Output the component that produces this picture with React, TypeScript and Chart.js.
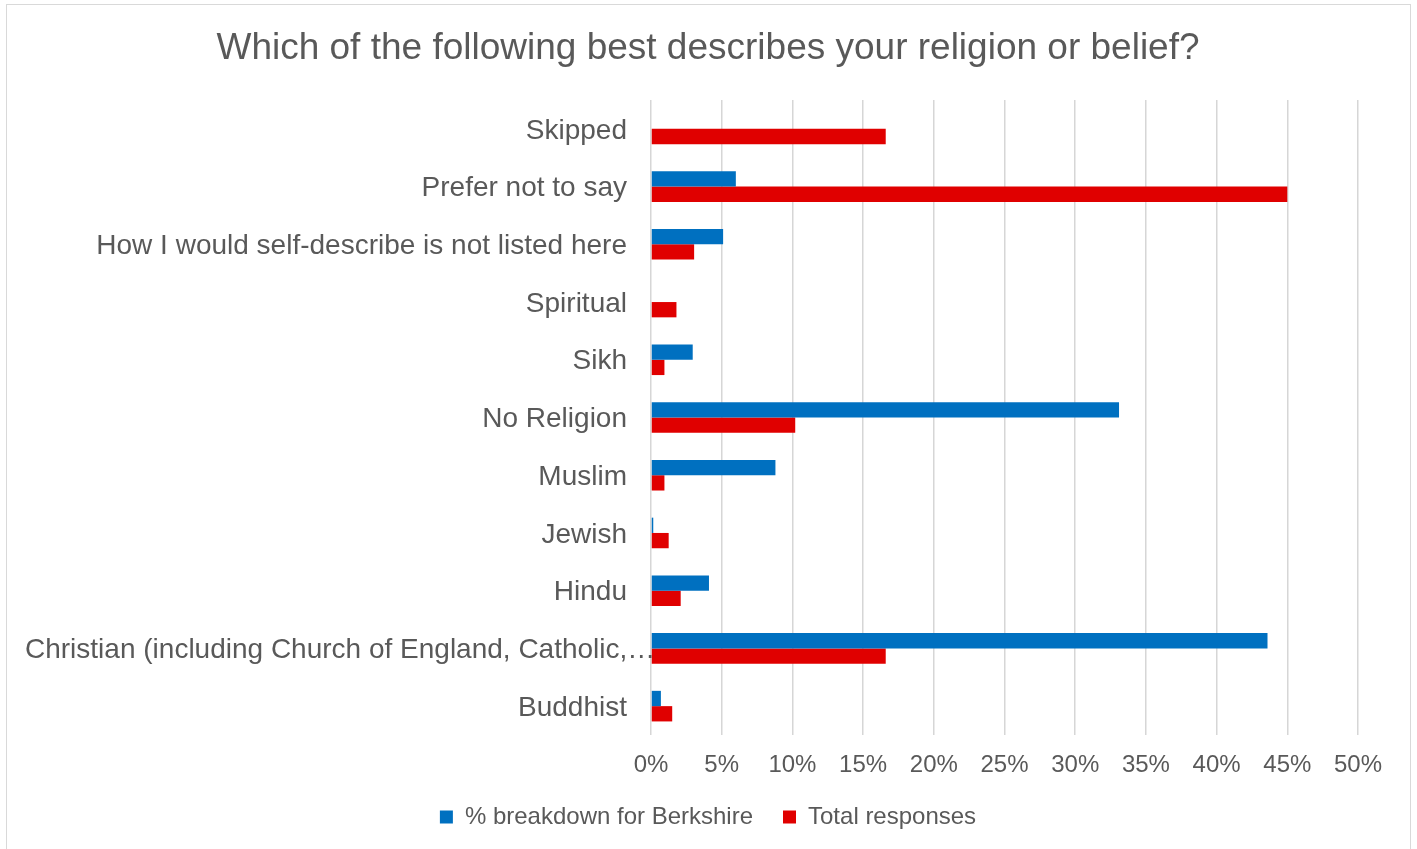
import React, { useEffect, useRef } from 'react';
import { Chart, registerables } from 'chart.js';

Chart.register(...registerables);

// Categories listed top to bottom as shown in the chart
const categories = [
  'Skipped',
  'Prefer not to say',
  'How I would self-describe is not listed here',
  'Spiritual',
  'Sikh',
  'No Religion',
  'Muslim',
  'Jewish',
  'Hindu',
  'Christian (including Church of England, Catholic,…',
  'Buddhist',
];

// % breakdown for Berkshire
const berkshire = [0, 6.0, 5.1, 0, 2.95, 33.1, 8.8, 0.16, 4.1, 43.6, 0.7];
// Total responses (%)
const totalResponses = [16.6, 45.0, 3.05, 1.8, 0.95, 10.2, 0.95, 1.25, 2.1, 16.6, 1.5];

const seriesNames = ['% breakdown for Berkshire', 'Total responses'];
const titleText = 'Which of the following best describes your religion or belief?';
const xMin = 0;
const xMax = 50;
const xStep = 5;

const FONT = '"Liberation Sans", Arial, Helvetica, sans-serif';
const TEXT = '#595959';
const BLUE = '#0070C0';
const RED = '#E00000';

const yLabelPlugin = {
  id: 'yLabels',
  afterDraw(chart: any) {
    const scale = chart.scales.y;
    const ctx = chart.ctx;
    ctx.save();
    ctx.font = `28px ${FONT}`;
    ctx.fillStyle = TEXT;
    ctx.textBaseline = 'middle';
    ctx.textAlign = 'left';
    const right = chart.chartArea.left - 24;
    const minLeft = 25;
    categories.forEach((label, i) => {
      const y = scale.getPixelForValue(i) + 2;
      const w = ctx.measureText(label).width;
      let x = right - w;
      if (x < minLeft) x = minLeft;
      ctx.fillText(label, x, y);
    });
    ctx.restore();
  },
};

export default function App() {
  const ref = useRef<HTMLCanvasElement>(null);

  useEffect(() => {
    const chart = new Chart(ref.current as HTMLCanvasElement, {
      type: 'bar',
      data: {
        labels: categories,
        datasets: [
          {
            label: seriesNames[0],
            data: berkshire,
            backgroundColor: BLUE,
            borderWidth: 0,
            categoryPercentage: 0.53,
            barPercentage: 1,
          },
          {
            label: seriesNames[1],
            data: totalResponses,
            backgroundColor: RED,
            borderWidth: 0,
            categoryPercentage: 0.53,
            barPercentage: 1,
          },
        ],
      },
      options: {
        indexAxis: 'y',
        responsive: false,
        animation: false,
        devicePixelRatio: 1,
        layout: { padding: { left: 58, right: 59, top: 0, bottom: 10 } },
        scales: {
          x: {
            min: xMin,
            max: xMax,
            ticks: {
              stepSize: xStep,
              callback: (v: any) => `${v}%`,
              color: TEXT,
              font: { size: 24, family: FONT },
              padding: 16,
            },
            grid: { color: '#d6d6d6', lineWidth: 1.5, drawTicks: false },
            border: { display: false },
            afterFit: (s: any) => {
              s.height = 40;
            },
          },
          y: {
            ticks: { display: false },
            grid: { display: false },
            border: { display: false },
            afterFit: (s: any) => {
              s.width = 593;
            },
          },
        },
        plugins: {
          title: {
            display: true,
            text: titleText,
            color: TEXT,
            font: { size: 37, weight: 'normal', family: FONT },
            padding: { top: 26.8, bottom: 28.8 },
          },
          legend: {
            position: 'bottom',
            maxHeight: 64,
            labels: {
              boxWidth: 13,
              boxHeight: 13,
              padding: 30,
              color: TEXT,
              font: { size: 24, family: FONT },
            },
          },
          tooltip: { enabled: false },
        },
      },
      plugins: [yLabelPlugin],
    } as any);
    return () => chart.destroy();
  }, []);

  return (
    <div
      style={{
        position: 'fixed',
        left: 0,
        top: 0,
        width: 1417,
        height: 849,
        overflow: 'hidden',
        background: '#ffffff',
      }}
    >
      <div
        style={{
          position: 'absolute',
          left: 6,
          top: 4,
          width: 1403,
          height: 900,
          border: '1px solid #d9d9d9',
        }}
      />
      <canvas
        ref={ref}
        width={1417}
        height={849}
        style={{ position: 'absolute', left: 0, top: 0, width: 1417, height: 849 }}
      />
    </div>
  );
}
